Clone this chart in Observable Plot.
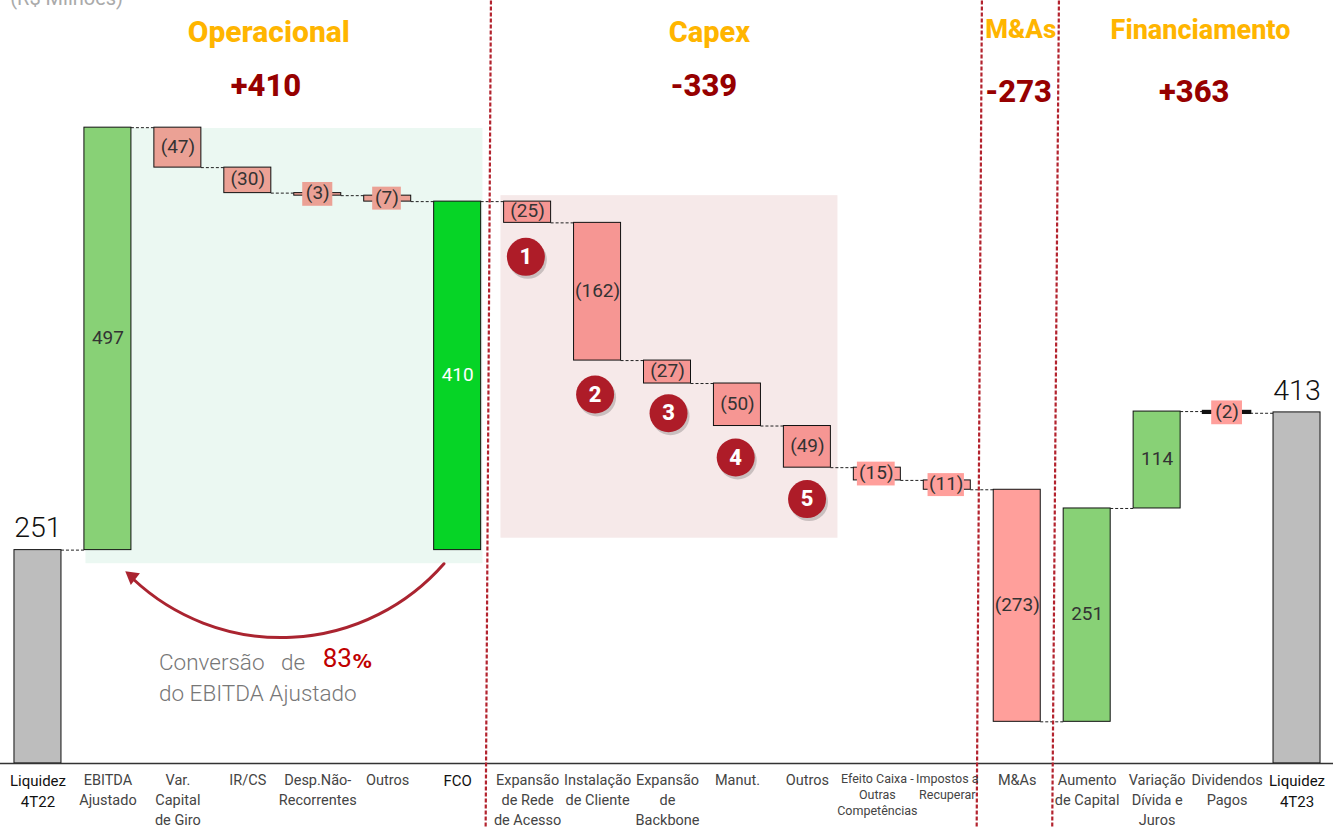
<!DOCTYPE html>
<html><head><meta charset="utf-8">
<script src="https://cdn.jsdelivr.net/npm/d3@7"></script>
<script src="https://cdn.jsdelivr.net/npm/@observablehq/plot@0.6"></script>
<style>html,body{margin:0;padding:0;background:#fff;overflow:hidden}svg{display:block}</style>
</head><body><div id="chart"></div>
<script>
const categories = ["Liquidez\n4T22","EBITDA\nAjustado","Var.\nCapital\nde Giro","IR/CS","Desp.Não-\nRecorrentes","Outros","FCO","Expansão\nde Rede\nde Acesso","Instalação\nde Cliente","Expansão\nde\nBackbone","Manut.","Outros","Efeito Caixa -\nOutras\nCompetências","Impostos a\nRecuperar","M&As","Aumento\nde Capital","Variação\nDívida e\nJuros","Dividendos\nPagos","Liquidez\n4T23"];
const starts = [0,251,748,701,671,668,251,661,636,474,447,397,348,333,322,49,300,414,0];
const ends   = [251,748,701,671,668,661,661,636,474,447,397,348,333,322,49,300,414,412,413];
const valueLabels = ["","497","(47)","(30)","(3)","(7)","410","(25)","(162)","(27)","(50)","(49)","(15)","(11)","(273)","251","114","(2)",""];
const barColors = ["#bdbdbd","#88d176","#eba195","#eba195","#eba195","#eba195","#06d426","#f69693","#f69693","#f69693","#f69693","#f69693","#ff9f9b","#ff9f9b","#ff9f9b","#88d176","#88d176","#ff9f9b","#bdbdbd"];
const boldCategories = [0,6,18];
const smallCategories = [12,13];
const smallLabelIndex = [4,5,12,13,17];
const smallLabelHalfWidth = [0.215,0.205,0.27,0.26,0.22];
const smallLabelHalfHeight = [14,13.5,14,13.5,14];
const smallLabelCentre = [669.5,664.5,340.5,327.5,412.5];
const smallLabelOffset = [0,-0.01,-0.015,-0.015,0];
const totals = [{i:0,label:"251",v:251},{i:18,label:"413",v:413}];
const sections = ["Operacional","Capex","M&As","Financiamento"];
const sectionX = [3.3,9.6,14.05,16.62];
const sectionY = [860,860,863,862];
const sectionSize = [30,29,26,27];
const sectionValues = ["+410","-339","-273","+363"];
const sectionValueX = [3.26,9.52,14.02,16.53];
const sectionValueY = [797,797,790,790];
const panelX1 = [0.686,6.619], panelX2 = [6.362,11.437], panelY1 = [235,265], panelY2 = [747,668];
const panelColors = ["#ebf8f2","#f6e9e9"];
const dividerTopX = [6.476,13.495,14.596], dividerBottomX = [6.40,13.42,14.5];
const badgeNumbers = ["1","2","3","4","5"];
const badgeX = [6.975,7.965,9.015,9.975,10.995];
const badgeY = [596,434,412,360,311];

const rows = categories.map((c,i)=>({i,c,a:Math.min(starts[i],ends[i]),b:Math.max(starts[i],ends[i]),end:ends[i],label:valueLabels[i],color:barColors[i]}));
const half = 0.336;
const font = "Roboto, 'Open Sans', sans-serif";
const tickRows = rows.filter(r=>!smallCategories.includes(r.i));
const smallLabels = smallLabelIndex.map((k,j)=>({x:k+smallLabelOffset[j],hw:smallLabelHalfWidth[j],hh:smallLabelHalfHeight[j],y:smallLabelCentre[j],label:valueLabels[k],color:barColors[k]}));
const plainLabels = rows.filter(r=>r.label && !smallLabelIndex.includes(r.i));
const panels = panelX1.map((x,i)=>({x1:x,x2:panelX2[i],y1:panelY1[i],y2:panelY2[i],color:panelColors[i]}));
const dividers = dividerTopX.map((x,i)=>({x1:x,x2:dividerBottomX[i]}));
const badges = badgeNumbers.map((n,i)=>({n,x:badgeX[i],y:badgeY[i]}));
const secs = sections.map((s,i)=>({s,x:sectionX[i],y:sectionY[i],size:sectionSize[i],v:sectionValues[i],vx:sectionValueX[i],vy:sectionValueY[i]}));

const chart = Plot.plot({
  width:1333,height:828,margin:0,
  style:{fontFamily:font,background:"#fff"},
  x:{domain:[-0.5,18.5],range:[2.5,1331.5],axis:null},
  y:{domain:[-76.5,897.6],range:[828,0],axis:null},
  marks:[
    Plot.rect(panels,{x1:"x1",x2:"x2",y1:"y1",y2:"y2",fill:"color"}),
    Plot.ruleY(rows.slice(0,-1),{y:"end",x1:d=>d.i+half,x2:d=>d.i+1-half,stroke:"#222",strokeWidth:1,strokeDasharray:"3,2"}),
    Plot.rect(rows,{x1:d=>d.i-half,x2:d=>d.i+half,y1:"a",y2:"b",fill:"color",stroke:"#111",strokeWidth:d=>d.i===17?2.5:1}),
    Plot.ruleY([0],{stroke:"#333",strokeWidth:1.4}),
    Plot.link(dividers,{x1:"x1",x2:"x2",y1:()=>897.6,y2:()=>-76.5,stroke:"#b3232e",strokeWidth:2.2,strokeDasharray:"4,2"}),
    Plot.rect(smallLabels,{x1:d=>d.x-d.hw,x2:d=>d.x+d.hw,y1:d=>d.y-d.hh,y2:d=>d.y+d.hh,fill:"color"}),
    Plot.text(plainLabels,{x:"i",y:d=>(d.a+d.b)/2,dy:-1,text:"label",fill:d=>d.i===6?"#fff":"#333",fontSize:19}),
    Plot.text(smallLabels,{x:"x",y:"y",dy:-1,text:"label",fill:"#333",fontSize:19}),
    Plot.text(totals,{x:"i",y:"v",text:"label",dy:-22,fontSize:28.5,fontWeight:300,fill:"#111"}),
    Plot.text(tickRows,{x:"i",y:-9,text:"c",lineAnchor:"top",lineHeight:1.38,fontSize:d=>boldCategories.includes(d.i)?15:14.5,fill:d=>boldCategories.includes(d.i)?"#111":"#444",fontWeight:d=>boldCategories.includes(d.i)?700:400}),
    Plot.text(rows.filter(r=>smallCategories.includes(r.i)),{x:"i",y:-9,text:"c",lineAnchor:"top",lineHeight:1.3,fontSize:12.5,fill:"#444"}),
    Plot.text(secs,{x:"x",y:"y",text:"s",fontSize:"size",fontWeight:800,fill:"#ffb500"}),
    Plot.text(secs,{x:"vx",y:"vy",text:"v",fontSize:31,fontWeight:800,fill:"#960000"}),
    Plot.text(["(R$ Milhões)"],{x:()=>0.41,y:()=>900,text:d=>d,fontSize:20,fill:"#aaa"}),
    Plot.dot(badges,{x:"x",y:"y",r:19,dx:2,dy:3,fill:"#000",fillOpacity:0.18}),
    Plot.dot(badges,{x:"x",y:"y",r:19,fill:"#ae1c28"}),
    Plot.text(badges,{x:"x",y:"y",text:"n",fill:"#fff",fontSize:22,fontWeight:800}),
    Plot.arrow([0],{x1:()=>5.804,y1:()=>235,x2:()=>1.36,y2:()=>217,bend:46,stroke:"#aa2430",strokeWidth:3,headLength:0}),
    Plot.dot([0],{x:()=>1.344,y:()=>220,symbol:"triangle",r:5.5,rotate:-52,fill:"#aa2430"}),
    Plot.text(["Conversão   de"],{x:()=>1.73,y:()=>119,text:d=>d,textAnchor:"start",fontSize:22.5,fill:"#777",fontWeight:300}),
    Plot.text(["do EBITDA Ajustado"],{x:()=>1.73,y:()=>82,text:d=>d,textAnchor:"start",fontSize:22.5,fill:"#777",fontWeight:300}),
    Plot.text(["83"],{x:()=>4.07,y:()=>123,text:d=>d,textAnchor:"start",fontSize:26,fill:"#c00000"}),
    Plot.text(["%"],{x:()=>4.5,y:()=>119,text:d=>d,textAnchor:"start",fontFamily:"DejaVu Sans",fontSize:19,fontWeight:700,fill:"#c00000"})
  ]
});
document.getElementById("chart").append(chart);
</script></body></html>
